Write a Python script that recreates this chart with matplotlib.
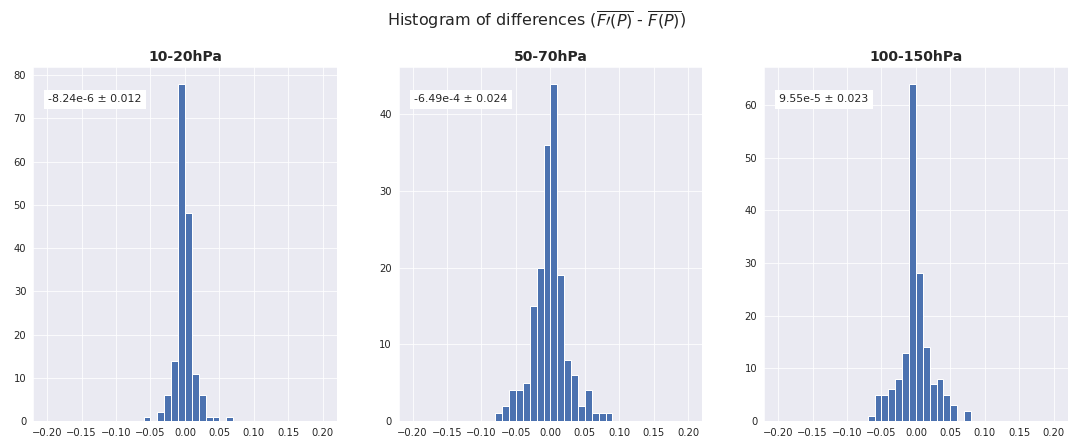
import matplotlib

matplotlib.use("Agg")
import matplotlib.pyplot as plt
import numpy as np
import seaborn as sns


# histogram bins: 40 bins of width 0.01 between -0.2 and 0.2
bin_edges = np.linspace(-0.2, 0.2, 41)

panel_titles = ["10-20hPa", "50-70hPa", "100-150hPa"]
panel_stats = ["-8.24e-6 \u00b1 0.012", "-6.49e-4 \u00b1 0.024", "9.55e-5 \u00b1 0.023"]

counts_10_20 = [
    0, 0, 0, 0, 0, 0, 0, 0, 0, 0,
    0, 0, 0, 0, 1, 0, 2, 6, 14, 78,
    48, 11, 6, 1, 1, 0, 1, 0, 0, 0,
    0, 0, 0, 0, 0, 0, 0, 0, 0, 0,
]
counts_50_70 = [
    0, 0, 0, 0, 0, 0, 0, 0, 0, 0,
    0, 0, 1, 2, 4, 4, 5, 15, 20, 36,
    44, 19, 8, 6, 2, 4, 1, 1, 1, 0,
    0, 0, 0, 0, 0, 0, 0, 0, 0, 0,
]
counts_100_150 = [
    0, 0, 0, 0, 0, 0, 0, 0, 0, 0,
    0, 0, 0, 1, 5, 5, 6, 8, 13, 64,
    28, 14, 7, 8, 5, 3, 0, 2, 0, 0,
    0, 0, 0, 0, 0, 0, 0, 0, 0, 0,
]
panel_counts = [counts_10_20, counts_50_70, counts_100_150]

x_ticks = [-0.20, -0.15, -0.10, -0.05, 0.00, 0.05, 0.10, 0.15, 0.20]


def main():
    sns.set_style("darkgrid")
    plt.rcParams["font.family"] = ["DejaVu Sans"]

    fig, axes = plt.subplots(1, 3, figsize=(1074 / 72, 440 / 72), dpi=72)
    fig.subplots_adjust(left=0.031, right=0.994, bottom=0.043, top=0.848, wspace=0.205)

    for ax, title, stat, counts in zip(axes, panel_titles, panel_stats, panel_counts):
        ax.hist(
            bin_edges[:-1],
            bins=bin_edges,
            weights=counts,
            color="#4C72B0",
            edgecolor="white",
            linewidth=1.0,
        )
        ax.set_title(title, fontsize=14, fontweight="bold")
        ax.set_xticks(x_ticks)
        ax.set_xticklabels([f"{t:.2f}".replace("-", "\u2212") for t in x_ticks])
        ax.tick_params(labelsize=10)
        ax.text(
            0.05,
            0.9,
            stat,
            transform=ax.transAxes,
            fontsize=11,
            bbox=dict(facecolor="white", edgecolor="none", boxstyle="square,pad=0.4"),
        )

    fig.suptitle(
        r"Histogram of differences ($\overline{F\prime(P)}$ - $\overline{F(P)}$)",
        fontsize=16,
        y=0.955,
        va="center",
    )
    fig.savefig("out.png", dpi=72)
    plt.close(fig)


if __name__ == "__main__":
    main()
